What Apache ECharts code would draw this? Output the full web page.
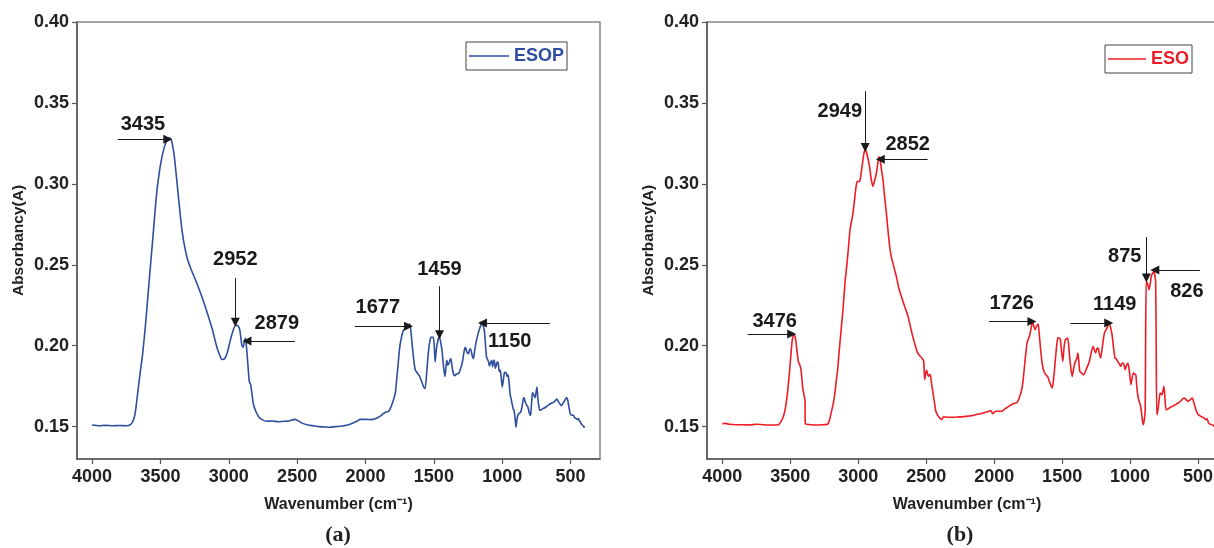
<!DOCTYPE html>
<html>
<head>
<meta charset="utf-8">
<script src="https://cdn.jsdelivr.net/npm/echarts@6/dist/echarts.min.js"></script>
<style>html,body{margin:0;padding:0;background:#fff}#c{width:1214px;height:548px}</style>
</head>
<body>
<div id="c"></div>
<script>
// ---------- DATA ----------
const xTicks = [4000, 3500, 3000, 2500, 2000, 1500, 1000, 500];
const yTicks = [0.15, 0.20, 0.25, 0.30, 0.35, 0.40];

const esopWn = [4000,3950,3900,3850,3800,3750,3720,3700,3685,3670,3650,3630,3610,3590,3570,3550,3530,3510,3490,3470,3450,3435,3420,3400,3380,3360,3340,3320,3300,3270,3240,3200,3160,3120,3090,3070,3050,3030,3010,2990,2970,2952,2935,2920,2905,2895,2885,2878,2870,2860,2850,2840,2830,2820,2800,2780,2760,2720,2680,2640,2600,2560,2520,2500,2460,2420,2380,2340,2300,2260,2220,2180,2140,2100,2060,2040,2000,1960,1930,1900,1870,1850,1830,1810,1790,1780,1770,1760,1750,1735,1723,1705,1694,1685,1677,1668,1658,1648,1636,1620,1607,1590,1575,1564,1552,1540,1530,1520,1505,1497,1491,1484,1477,1468,1459,1450,1439,1428,1419,1410,1405,1398,1390,1382,1376,1365,1355,1347,1335,1318,1300,1289,1278,1269,1258,1246,1238,1231,1220,1211,1200,1188,1178,1168,1158,1150,1140,1130,1122,1115,1110,1100,1094,1087,1078,1070,1063,1058,1050,1043,1036,1029,1022,1014,1007,1000,993,985,978,971,964,957,950,942,930,920,913,906,899,893,886,879,870,861,852,846,841,834,826,819,812,804,796,792,785,779,772,766,760,753,746,740,733,725,705,682,660,640,624,612,601,590,578,566,552,540,529,520,512,503,492,480,470,460,451,443,436,429,422,415,408,402,399];
const esopAbs = [0.1510,0.1505,0.1508,0.1505,0.1507,0.1505,0.1512,0.1535,0.158,0.168,0.182,0.195,0.212,0.232,0.252,0.272,0.292,0.306,0.316,0.323,0.327,0.3285,0.327,0.318,0.302,0.285,0.270,0.260,0.253,0.246,0.240,0.231,0.221,0.210,0.200,0.195,0.1915,0.192,0.196,0.203,0.209,0.2125,0.2125,0.210,0.2005,0.199,0.203,0.2045,0.199,0.188,0.178,0.176,0.170,0.164,0.159,0.156,0.1545,0.1533,0.1535,0.153,0.1533,0.1535,0.1545,0.154,0.152,0.151,0.1505,0.150,0.1498,0.1496,0.150,0.1502,0.1508,0.152,0.1535,0.1545,0.1545,0.1543,0.1548,0.156,0.158,0.159,0.1595,0.163,0.168,0.172,0.181,0.190,0.199,0.206,0.2095,0.2105,0.2108,0.2125,0.2135,0.209,0.200,0.192,0.185,0.183,0.1815,0.178,0.1745,0.1735,0.184,0.196,0.2025,0.2052,0.2052,0.200,0.190,0.196,0.2005,0.204,0.2055,0.202,0.196,0.186,0.181,0.188,0.191,0.188,0.189,0.191,0.192,0.186,0.182,0.1815,0.1825,0.183,0.187,0.191,0.197,0.199,0.196,0.195,0.198,0.198,0.194,0.192,0.198,0.2035,0.207,0.2098,0.2125,0.2143,0.2125,0.2087,0.200,0.193,0.192,0.190,0.1875,0.189,0.191,0.187,0.1905,0.191,0.186,0.188,0.190,0.189,0.184,0.185,0.180,0.1745,0.178,0.183,0.1835,0.183,0.181,0.182,0.177,0.170,0.165,0.161,0.160,0.155,0.1496,0.154,0.157,0.158,0.1585,0.160,0.164,0.167,0.168,0.166,0.164,0.163,0.162,0.159,0.157,0.1575,0.165,0.171,0.170,0.169,0.168,0.171,0.1745,0.168,0.163,0.160,0.161,0.162,0.1635,0.1645,0.165,0.166,0.167,0.1655,0.164,0.163,0.165,0.1665,0.168,0.166,0.162,0.158,0.157,0.157,0.1555,0.155,0.1545,0.155,0.1535,0.153,0.1517,0.151,0.1505,0.1496,0.1505];

const esoWn = [4000,3980,3950,3900,3850,3800,3750,3700,3650,3600,3585,3570,3557,3545,3535,3522,3510,3500,3492,3487,3480,3473,3466,3459,3450,3440,3430,3423,3415,3409,3400,3392,3390,3380,3350,3300,3260,3230,3220,3209,3195,3181,3170,3160,3153,3140,3125,3110,3097,3090,3075,3060,3039,3025,3010,2990,2980,2973,2960,2948,2935,2916,2905,2892,2880,2867,2856,2848,2838,2828,2818,2806,2793,2781,2769,2757,2745,2733,2720,2700,2679,2658,2637,2617,2596,2580,2568,2550,2526,2518,2512,2505,2498,2491,2484,2477,2470,2463,2456,2443,2429,2415,2401,2387,2373,2340,2300,2260,2220,2190,2164,2130,2100,2080,2060,2040,2025,2011,1990,1960,1941,1920,1900,1885,1860,1843,1830,1816,1800,1788,1775,1760,1750,1740,1728,1718,1708,1699,1688,1676,1666,1657,1645,1634,1620,1607,1590,1573,1562,1551,1540,1531,1515,1505,1495,1486,1476,1459,1449,1439,1426,1415,1403,1392,1384,1377,1370,1356,1342,1320,1300,1285,1272,1262,1253,1245,1236,1226,1217,1203,1189,1170,1153,1143,1133,1122,1111,1102,1092,1080,1070,1060,1049,1042,1036,1026,1016,1005,994,985,975,966,958,951,944,935,925,915,908,903,896,889,886,882,878,874,867,860,852,846,840,833,826,819,812,808,804,798,793,786,779,772,765,758,751,743,735,720,705,687,666,646,625,604,590,575,558,542,531,520,509,498,482,465,452,443,435,423,410,395,380];
const esoAbs = [0.1518,0.152,0.1515,0.1512,0.1512,0.151,0.1515,0.1512,0.151,0.151,0.1512,0.153,0.155,0.158,0.162,0.170,0.180,0.190,0.198,0.2027,0.206,0.2072,0.206,0.2027,0.196,0.190,0.188,0.186,0.180,0.174,0.170,0.166,0.152,0.1515,0.1512,0.151,0.1512,0.1514,0.152,0.155,0.160,0.1656,0.172,0.180,0.184,0.197,0.211,0.225,0.2397,0.245,0.258,0.272,0.2817,0.292,0.3012,0.3016,0.306,0.310,0.318,0.3217,0.318,0.310,0.303,0.2985,0.302,0.3064,0.313,0.3167,0.314,0.308,0.3023,0.292,0.2817,0.271,0.2613,0.255,0.251,0.247,0.2428,0.235,0.2294,0.224,0.2191,0.212,0.2047,0.200,0.1965,0.194,0.1918,0.190,0.179,0.182,0.185,0.183,0.181,0.182,0.182,0.178,0.1739,0.167,0.1595,0.157,0.1553,0.1543,0.156,0.1558,0.1558,0.156,0.1562,0.1565,0.1568,0.1575,0.158,0.1584,0.159,0.1595,0.160,0.158,0.1595,0.1595,0.1597,0.161,0.162,0.163,0.1642,0.1646,0.165,0.1677,0.172,0.178,0.189,0.2006,0.204,0.2058,0.211,0.215,0.212,0.2099,0.212,0.2134,0.205,0.1965,0.188,0.1842,0.182,0.181,0.177,0.1739,0.180,0.1903,0.200,0.2051,0.2043,0.197,0.1903,0.199,0.2037,0.2047,0.197,0.1883,0.181,0.186,0.1903,0.192,0.1955,0.190,0.1842,0.183,0.182,0.186,0.1903,0.196,0.1996,0.197,0.1955,0.198,0.1986,0.195,0.1924,0.200,0.2078,0.211,0.214,0.211,0.2068,0.199,0.1924,0.192,0.1903,0.189,0.1872,0.189,0.1893,0.187,0.1852,0.188,0.1893,0.184,0.1759,0.180,0.1831,0.1825,0.1821,0.175,0.1698,0.166,0.1636,0.158,0.153,0.1512,0.154,0.1595,0.200,0.2397,0.2395,0.2387,0.237,0.2346,0.238,0.242,0.2438,0.245,0.2459,0.244,0.2397,0.200,0.1574,0.159,0.1615,0.167,0.1708,0.170,0.1698,0.172,0.1749,0.167,0.1605,0.161,0.162,0.1626,0.1636,0.1646,0.166,0.1677,0.167,0.1656,0.1665,0.1677,0.165,0.1615,0.159,0.1574,0.1565,0.1558,0.155,0.1543,0.155,0.1523,0.1515,0.1512,0.150];

// annotation arrows: [fromWn, fromAbs, toWn, toAbs] (head at "to")
const arrowsA = [[3812,0.3276,3446,0.3276],[2952,0.2418,2952,0.2145],[2517,0.2029,2867,0.2029],[2078,0.212,1685,0.212],[1459,0.2368,1459,0.2068],[652,0.214,1145,0.214]];
const labelsA = [[3628,0.3369,'3435'],[2952,0.2535,'2952'],[2649,0.2140,'2879'],[1910,0.2239,'1677'],[1459,0.2473,'1459'],[945,0.2029,'1150']];
const arrowsB = [[3814,0.2072,3490,0.2072],[2949,0.3572,2949,0.3225],[2490,0.3152,2838,0.3152],[2038,0.215,1722,0.215],[1439,0.214,1157,0.214],[880,0.2671,880,0.2418],[486,0.2467,818,0.2467]];
const labelsB = [[3615,0.2152,'3476'],[3136,0.3448,'2949'],[2636,0.3245,'2852'],[1871,0.2263,'1726'],[1113,0.2257,'1149'],[1039,0.2554,'875'],[582,0.2338,'826']];

const seriesNames = ['ESOP', 'ESO'];
const seriesColors = ['#2e4d9e', '#ee1c25'];
const panelTags = ['(a)', '(b)'];

// ---------- CHART ----------
const FF = '"Liberation Sans", Arial, Helvetica, sans-serif';
const chart = echarts.init(document.getElementById('c'), null, {renderer: 'canvas'});

function xAx(gi, min, max) {
  return {
    gridIndex: gi, type: 'value', inverse: true, min: min, max: max,
    name: 'Wavenumber (cm⁻¹)', nameLocation: 'middle', nameGap: 38,
    nameTextStyle: {fontFamily: FF, fontWeight: 'bold', fontSize: 16, color: '#222'},
    axisLine: {show: true, onZero: false, lineStyle: {color: '#555', width: 1.5}},
    axisTick: {show: true, inside: false, length: 5, customValues: xTicks, lineStyle: {color: '#555', width: 1.2}},
    axisLabel: {customValues: xTicks, margin: 9, formatter: v => String(Math.round(v)), fontFamily: FF, fontWeight: 'bold', fontSize: 18, color: '#222'},
    splitLine: {show: false}
  };
}
function yAx(gi) {
  return {
    gridIndex: gi, type: 'value', min: 0.13, max: 0.40,
    name: 'Absorbancy(A)', nameLocation: 'middle', nameGap: 50,
    nameTextStyle: {fontFamily: FF, fontWeight: 'bold', fontSize: 15.5, color: '#222'},
    axisLine: {show: true, onZero: false, lineStyle: {color: '#555', width: 1.5}},
    axisTick: {show: true, inside: false, length: 5, customValues: yTicks, lineStyle: {color: '#555', width: 1.2}},
    axisLabel: {customValues: yTicks, margin: 8, formatter: v => v.toFixed(2), fontFamily: FF, fontWeight: 'bold', fontSize: 18, color: '#222'},
    splitLine: {show: false}
  };
}
function arrowData(arr) {
  return arr.map(a => [{coord: [a[0], a[1]]}, {coord: [a[2], a[3]]}]);
}
function lineSeries(i, wn, ab, arrows) {
  return {
    name: seriesNames[i], type: 'line', xAxisIndex: i, yAxisIndex: i,
    data: wn.map((x, k) => [x, ab[k]]),
    symbol: 'none', smooth: 0.2,
    lineStyle: {color: seriesColors[i], width: 1.6}, itemStyle: {color: seriesColors[i]},
    markLine: {
      silent: true, animation: false,
      symbol: ['none', 'triangle'], symbolSize: 9,
      lineStyle: {color: '#1a1a1a', width: 1, type: 'solid', opacity: 1},
      itemStyle: {color: '#1a1a1a'},
      label: {show: false}, emphasis: {disabled: true},
      data: arrowData(arrows)
    }
  };
}
function labelSeries(i, labels) {
  return {
    type: 'scatter', xAxisIndex: i, yAxisIndex: i, symbolSize: 0, silent: true,
    itemStyle: {opacity: 1},
    data: labels.map(l => ({value: [l[0], l[1]], name: l[2]})),
    label: {show: true, position: 'inside', opacity: 1, formatter: p => p.name, fontFamily: FF, fontWeight: 'bold', fontSize: 20, color: '#1a1a1a'}
  };
}
function legendFor(i, left, top, iw) {
  return {
    data: [{name: seriesNames[i], icon: 'rect', itemStyle: {color: seriesColors[i]}}],
    left: left, top: top, orient: 'horizontal',
    borderColor: '#444', borderWidth: 1, borderRadius: 0, padding: [5, 3, 5, 3],
    itemWidth: iw, itemHeight: 1.6, itemGap: 0, selectedMode: false,
    textStyle: {fontFamily: FF, fontWeight: 'bold', fontSize: 18, color: seriesColors[i]}
  };
}

chart.setOption({
  animation: false,
  backgroundColor: '#fff',
  grid: [
    {left: 77, top: 22, width: 523, height: 437, show: true, borderColor: '#888', borderWidth: 1.5, backgroundColor: 'transparent', outerBoundsMode: 'none', containLabel: false},
    {left: 707, top: 22, width: 520, height: 437, show: true, borderColor: '#888', borderWidth: 1.5, backgroundColor: 'transparent', outerBoundsMode: 'none', containLabel: false}
  ],
  xAxis: [xAx(0, 285, 4110), xAx(1, 287, 4113)],
  yAxis: [yAx(0), yAx(1)],
  legend: [legendFor(0, 466, 42, 40), legendFor(1, 1105, 45, 38)],
  graphic: [
    {type: 'text', x: 338, y: 535, style: {text: panelTags[0], font: 'bold 22px "Liberation Serif", "Times New Roman", serif', fill: '#222', align: 'center', verticalAlign: 'middle', textAlign: 'center', textVerticalAlign: 'middle'}},
    {type: 'text', x: 960, y: 535, style: {text: panelTags[1], font: 'bold 22px "Liberation Serif", "Times New Roman", serif', fill: '#222', align: 'center', verticalAlign: 'middle', textAlign: 'center', textVerticalAlign: 'middle'}}
  ],
  series: [
    lineSeries(0, esopWn, esopAbs, arrowsA),
    labelSeries(0, labelsA),
    lineSeries(1, esoWn, esoAbs, arrowsB),
    labelSeries(1, labelsB)
  ]
});
</script>
</body>
</html>
